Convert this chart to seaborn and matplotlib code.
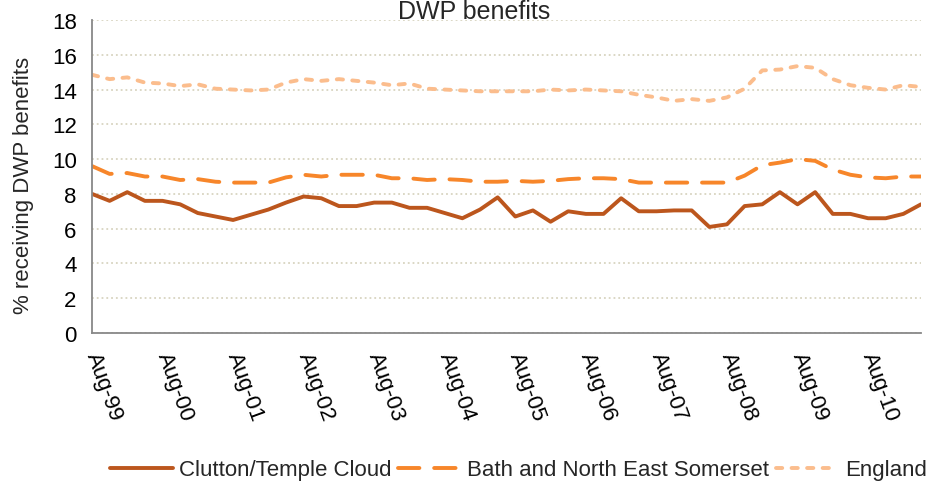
import pandas as pd
import matplotlib
matplotlib.use('Agg')
import matplotlib.pyplot as plt
import seaborn as sns

# quarterly values, Aug-99 .. May-11 (48 quarters)
clutton = [8.0, 7.6, 8.1, 7.6, 7.6, 7.4, 6.9, 6.7, 6.5, 6.8, 7.1, 7.5,
           7.85, 7.75, 7.3, 7.3, 7.5, 7.5, 7.2, 7.2, 6.9, 6.6, 7.1, 7.8,
           6.7, 7.05, 6.4, 7.0, 6.85, 6.85, 7.75, 7.0, 7.0, 7.05, 7.05, 6.1,
           6.25, 7.3, 7.4, 8.1, 7.4, 8.1, 6.85, 6.85, 6.6, 6.6, 6.85, 7.4]
banes = [9.6, 9.15, 9.2, 9.0, 9.0, 8.8, 8.85, 8.7, 8.65, 8.65, 8.65, 8.95,
         9.1, 9.0, 9.1, 9.1, 9.1, 8.9, 8.9, 8.8, 8.85, 8.8, 8.7, 8.7,
         8.75, 8.7, 8.75, 8.85, 8.9, 8.9, 8.85, 8.65, 8.65, 8.65, 8.65, 8.65,
         8.65, 9.05, 9.65, 9.8, 10.0, 9.9, 9.4, 9.1, 8.95, 8.9, 9.0, 9.0]
england = [14.85, 14.6, 14.7, 14.4, 14.35, 14.2, 14.3, 14.05, 14.0, 13.95, 14.0, 14.4,
           14.6, 14.5, 14.6, 14.5, 14.4, 14.25, 14.35, 14.05, 14.0, 13.95, 13.9, 13.9,
           13.9, 13.9, 14.0, 13.95, 14.0, 13.95, 13.9, 13.7, 13.55, 13.35, 13.45, 13.35,
           13.55, 14.05, 15.1, 15.15, 15.35, 15.25, 14.6, 14.25, 14.1, 14.0, 14.25, 14.15]

tick_labels = ['Aug-99', 'Aug-00', 'Aug-01', 'Aug-02', 'Aug-03', 'Aug-04',
               'Aug-05', 'Aug-06', 'Aug-07', 'Aug-08', 'Aug-09', 'Aug-10']
names = ['Clutton/Temple Cloud', 'Bath and North East Somerset', 'England']

sns.set_style('white')
plt.rcParams['font.family'] = ['Liberation Sans', 'DejaVu Sans']

n = len(clutton)
df = pd.DataFrame({
    'quarter': list(range(n)) * 3,
    'pct': clutton + banes + england,
    'area': [names[0]] * n + [names[1]] * n + [names[2]] * n,
})

palette = {names[0]: '#BC561D', names[1]: '#F7862A', names[2]: '#FBBD8D'}
dashes = {names[0]: '', names[1]: (5.5, 3.8), names[2]: (1.6, 2.4)}

fig = plt.figure(figsize=(9.3, 4.85), dpi=100)
ax = fig.add_axes([0.0989, 0.3113, 0.8914, 0.6454])

sns.lineplot(data=df, x='quarter', y='pct', hue='area', style='area',
             palette=palette, dashes=dashes, linewidth=2.8,
             dash_capstyle='round', legend=False, ax=ax)

ax.set_xlim(0, n - 1)
ax.set_ylim(0, 18)
ax.set_yticks(range(0, 19, 2))
ax.set_xticks(range(0, 4 * len(tick_labels), 4))
ax.set_xticklabels(tick_labels, rotation=-70, rotation_mode='anchor',
                   ha='left', va='center')
ax.set_xlabel('')
ax.set_ylabel('')

ax.yaxis.grid(True, color='#D8D4C0', linestyle=':', linewidth=1.3)
ax.set_axisbelow(True)
for side in ['top', 'right']:
    ax.spines[side].set_visible(False)
for side in ['left', 'bottom']:
    ax.spines[side].set_color('#888888')
    ax.spines[side].set_linewidth(1.3)
ax.tick_params(axis='both', direction='out', length=5, width=1.2,
               color='#888888', labelsize=16, labelcolor='black')
ax.tick_params(axis='y', pad=6)
ax.tick_params(axis='x', pad=9)

fig.text(24 / 930, 1 - 185 / 485, '% receiving DWP benefits', rotation=90,
         ha='center', va='center', fontsize=16)
fig.text(474 / 930, 1 - 19 / 485, 'DWP benefits', ha='center',
         va='baseline', fontsize=18)

handles = ax.get_lines()[:3]
fig.legend(handles, names, loc='center right', bbox_to_anchor=(1.006, 0.029),
           ncol=3, frameon=False, fontsize=16, handlelength=2.8,
           handletextpad=0.3, columnspacing=0.3, borderaxespad=0)

fig.savefig('out.png', dpi=100)
